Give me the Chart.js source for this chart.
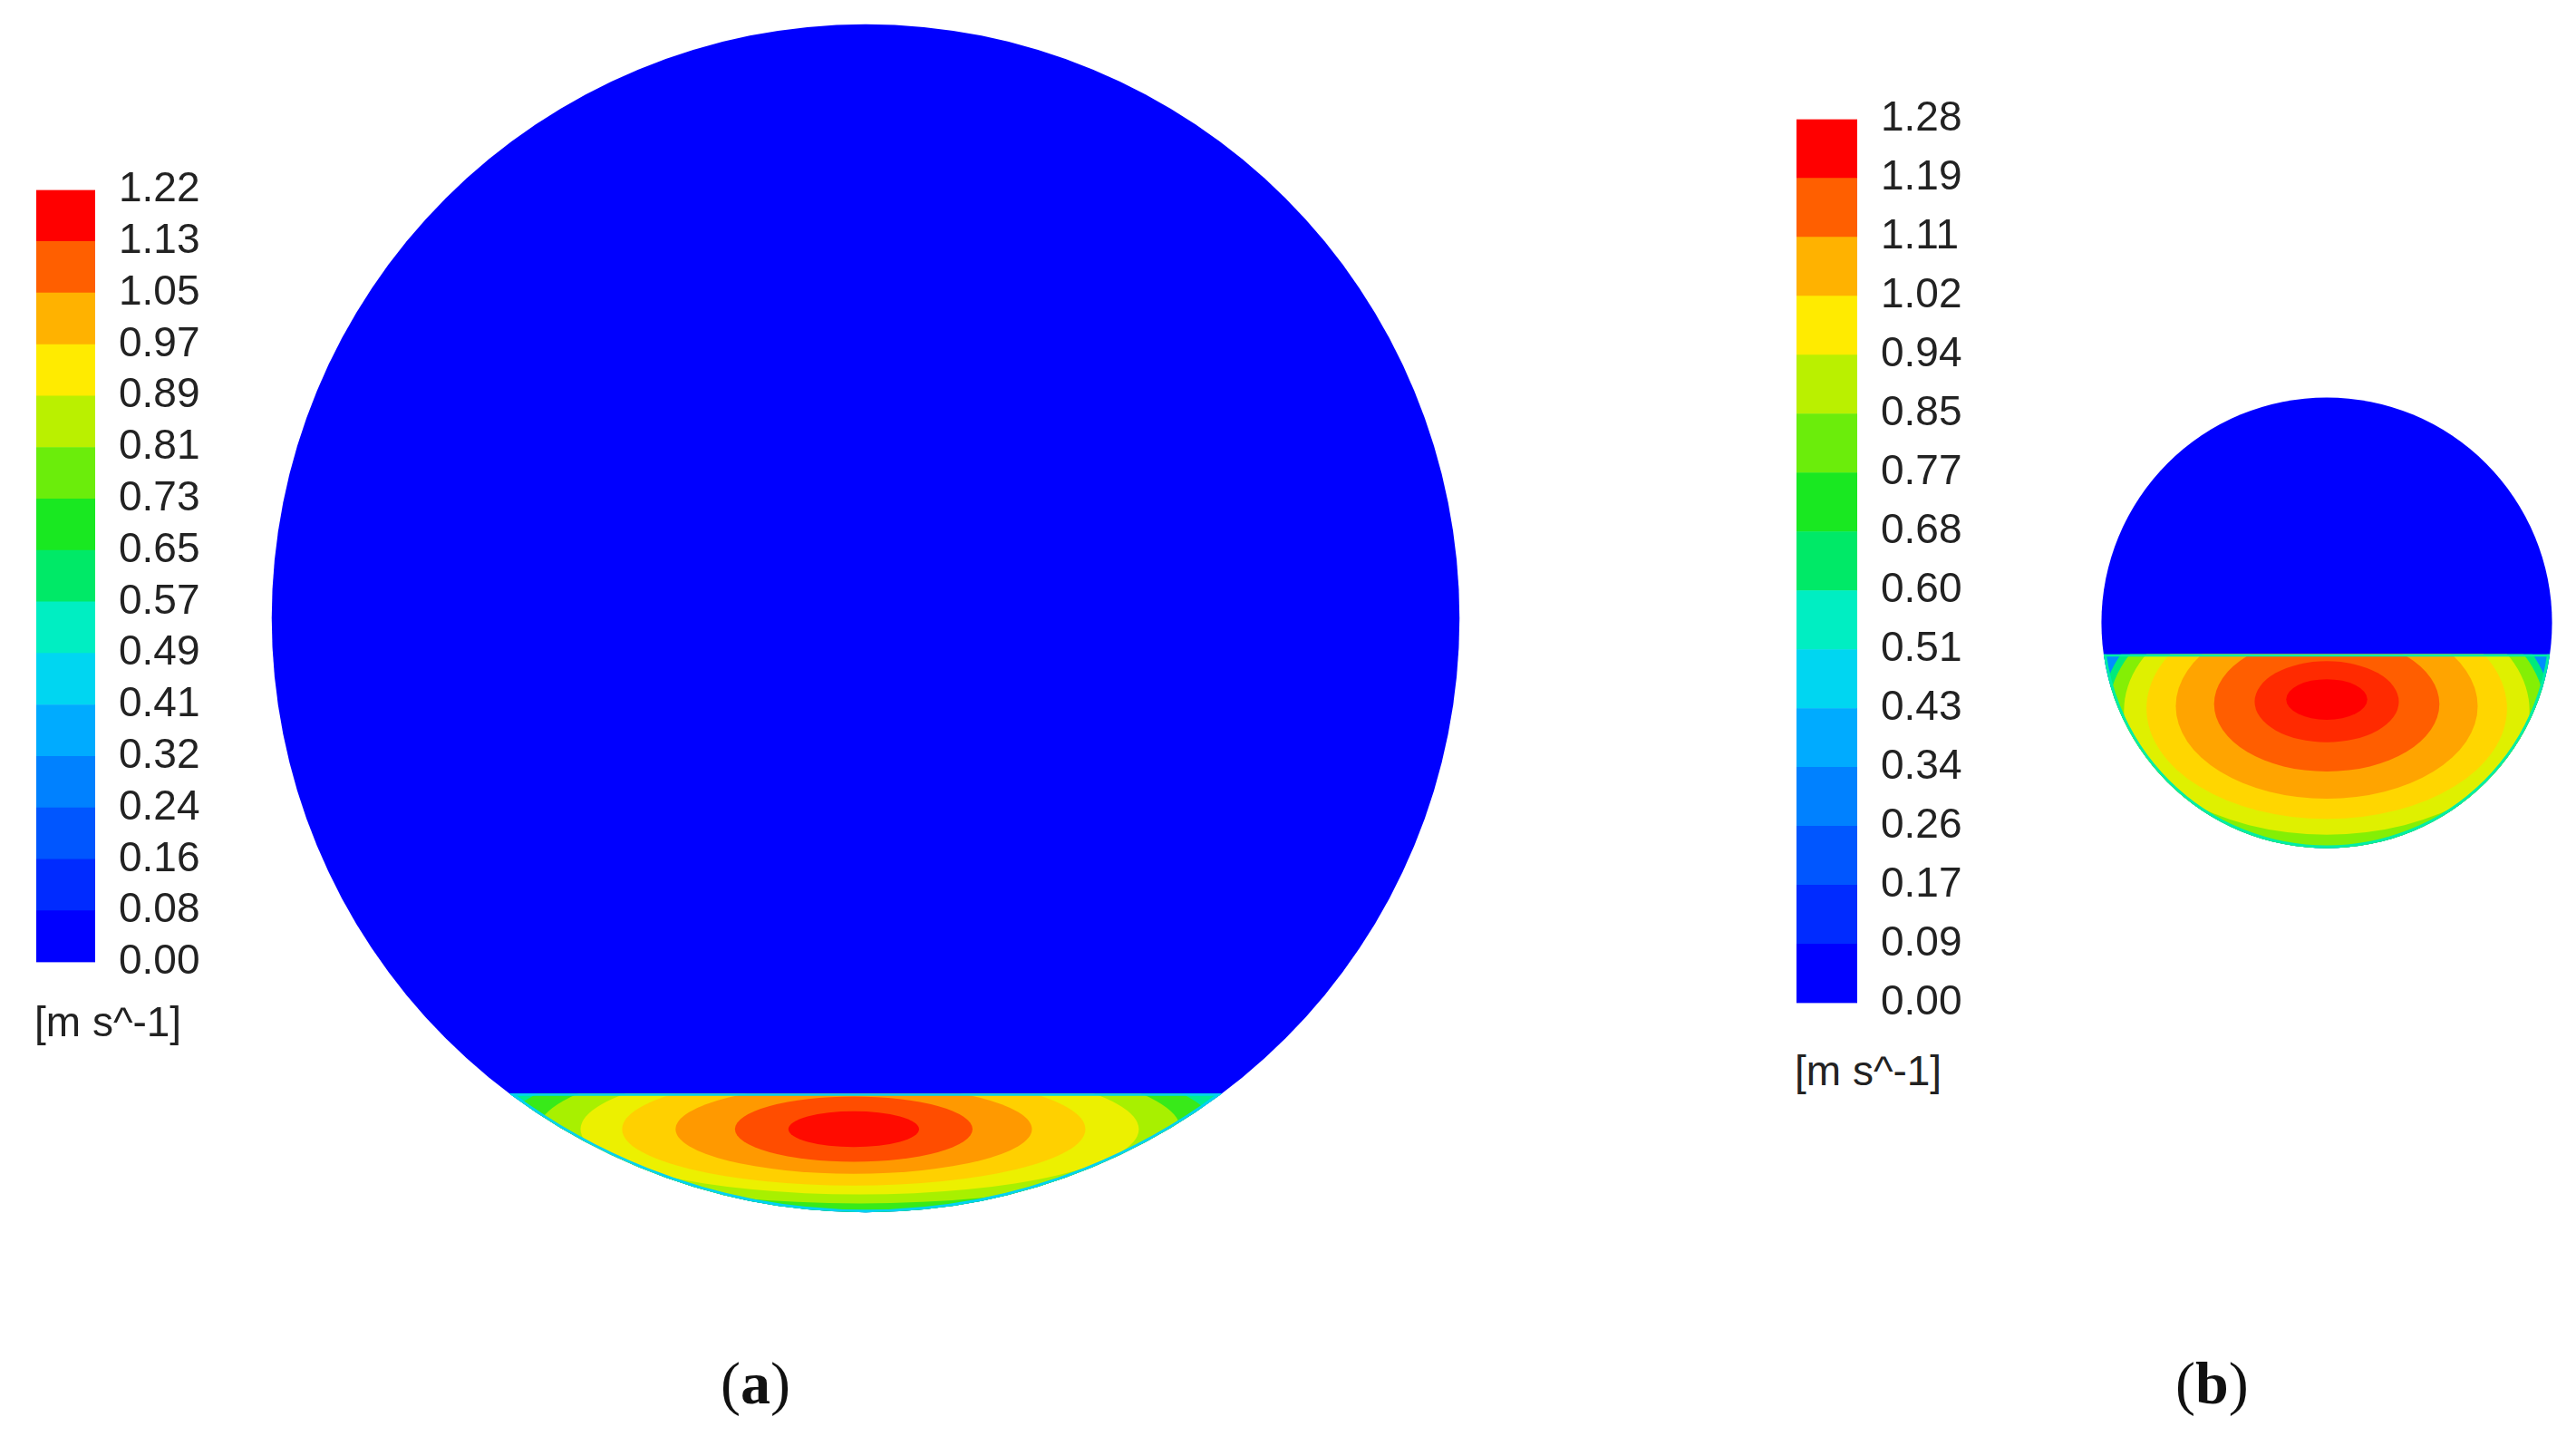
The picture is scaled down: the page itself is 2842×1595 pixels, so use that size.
<!DOCTYPE html>
<html><head><meta charset="utf-8">
<script src="https://cdn.jsdelivr.net/npm/chart.js@4"></script>
<style>
body{margin:0;background:#fff;width:2842px;height:1595px;position:relative;overflow:hidden;font-family:"Liberation Sans",Arial,sans-serif}
canvas{position:absolute}
.unit{position:absolute;font-size:46px;color:#222}
.cap{position:absolute;font-family:"Liberation Serif",serif;font-size:66px;color:#111}
</style></head><body>
<canvas id="cbA" style="left:40px;top:164px;width:225px;height:943px"></canvas>
<canvas id="cbB" style="left:1982px;top:86px;width:227px;height:1066px"></canvas>
<canvas id="cA" style="left:267px;top:-6px;width:1376px;height:1376px"></canvas>
<canvas id="cB" style="left:2306px;top:426px;width:522px;height:522px"></canvas>
<div class="unit" style="left:38px;top:1100px">[m s^-1]</div>
<div class="unit" style="left:1980px;top:1154px">[m s^-1]</div>
<div class="cap" style="left:795px;top:1488px">(<b>a</b>)</div>
<div class="cap" style="left:2400px;top:1488px">(<b>b</b>)</div>
<script>
// ---- data ----
const levelsA = [0.00,0.08,0.16,0.24,0.32,0.41,0.49,0.57,0.65,0.73,0.81,0.89,0.97,1.05,1.13,1.22];
const levelsB = [0.00,0.09,0.17,0.26,0.34,0.43,0.51,0.60,0.68,0.77,0.85,0.94,1.02,1.11,1.19,1.28];
// pipe cross-section: radius 1, jet free surface height (y), normalized
const pipeA = {r:1, surface:-0.80, max:1.22, rim:0.35};
const pipeB = {r:1, surface:-0.14, max:1.28, rim:0.45};
// contour ellipses: [cx, cy, rx, ry, value]
const contoursA = [
 [0,-0.86,1.2,0.5,0.30],[0,-0.86,0.66,0.16,0.57],[-0.01,-0.86,0.6,0.14,0.73],[-0.01,-0.86,0.54,0.125,0.85],
 [-0.01,-0.86,0.47,0.11,0.93],[-0.02,-0.86,0.39,0.095,1.0],[-0.02,-0.86,0.3,0.075,1.08],
 [-0.02,-0.86,0.2,0.055,1.15],[-0.02,-0.86,0.11,0.03,1.21]];
const contoursB = [
 [0,-0.38,1.3,1.0,0.30],[0,-0.40,1.0,0.64,0.62],[0,-0.40,0.97,0.6,0.85],[0,-0.39,0.9,0.55,0.96],
 [0,-0.38,0.8,0.49,1.04],[0,-0.37,0.67,0.41,1.12],[0,-0.36,0.5,0.3,1.19],[0,-0.35,0.32,0.18,1.24],[0,-0.34,0.18,0.09,1.28]];

function cmap(t){
  const stops=[[0,[0,0,255]],[0.3,[0,180,255]],[0.4,[0,240,230]],[0.55,[0,230,40]],[0.68,[150,240,0]],[0.78,[255,240,0]],[0.88,[255,160,0]],[1,[255,0,0]]];
  t=Math.max(0,Math.min(1,t));
  for(let i=1;i<stops.length;i++){ if(t<=stops[i][0]){const [a,ca]=stops[i-1],[b,cb]=stops[i];const f=(t-a)/(b-a);
    return 'rgb('+ca.map((v,k)=>Math.round(v+(cb[k]-v)*f)).join(',')+')';}}
  return 'rgb(255,0,0)';
}
['cbA','cbB','cA','cB'].forEach(id=>{const e=document.getElementById(id);e.width=parseInt(e.style.width);e.height=parseInt(e.style.height);});

function colorbar(id, levels){
  const n=levels.length-1;
  const ds=[];
  for(let i=0;i<n;i++){
    ds.push({data:[1],backgroundColor:cmap(i/(n-1)),borderWidth:0,barPercentage:1,categoryPercentage:1});
  }
  new Chart(document.getElementById(id),{type:'bar',data:{labels:[''],datasets:ds},
    options:{responsive:false,animation:false,devicePixelRatio:1,layout:{padding:{top:30,bottom:30}},
      plugins:{legend:{display:false},tooltip:{enabled:false}},
      scales:{x:{stacked:true,display:false},
        y:{stacked:true,position:'right',min:0,max:n,grid:{display:false},border:{display:false},
          afterBuildTicks:s=>{s.ticks=levels.map((v,i)=>({value:i}));},
          afterFit:s=>{s.width=160;},
          ticks:{autoSkip:false,padding:18,color:'#222',font:{size:46,family:'Liberation Sans'},callback:(v,i)=>levels[i].toFixed(2)}}}}});
}
colorbar('cbA',levelsA); colorbar('cbB',levelsB);

function section(id,pipe,contours){
  const plug={id:'sec',afterDatasetsDraw(ch){
    const c=ch.ctx,x=ch.scales.x,y=ch.scales.y;
    const px=v=>x.getPixelForValue(v),py=v=>y.getPixelForValue(v);
    const R=px(pipe.r)-px(0);
    c.save();
    c.beginPath();c.arc(px(0),py(0),R,0,2*Math.PI);c.fillStyle='#0000ff';c.fill();c.clip();
    c.beginPath();c.rect(px(-1.2),py(pipe.surface),px(1.2)-px(-1.2),py(-1.2)-py(pipe.surface));c.clip();
    for(const [cx,cy,rx,ry,v] of contours){
      c.beginPath();c.ellipse(px(cx),py(cy),px(rx)-px(0),py(0)-py(ry),0,0,2*Math.PI);
      c.fillStyle=cmap(v/pipe.max);c.fill();
    }
    c.beginPath();c.arc(px(0),py(0),R,0,2*Math.PI);c.lineWidth=6;c.strokeStyle=cmap(pipe.rim);c.stroke();
    c.beginPath();c.moveTo(px(-1.2),py(pipe.surface));c.lineTo(px(1.2),py(pipe.surface));c.lineWidth=5;c.strokeStyle=cmap(pipe.rim);c.stroke();
    c.restore();
  }};
  new Chart(document.getElementById(id),{type:'scatter',
    data:{datasets:[{data:[{x:0,y:0}],pointRadius:0}]},
    options:{responsive:false,animation:false,devicePixelRatio:1,layout:{padding:0},
      plugins:{legend:{display:false},tooltip:{enabled:false}},
      scales:{x:{display:false,min:-1.05,max:1.05},y:{display:false,min:-1.05,max:1.05}}},
    plugins:[plug]});
}
section('cA',pipeA,contoursA); section('cB',pipeB,contoursB);
</script></body></html>
